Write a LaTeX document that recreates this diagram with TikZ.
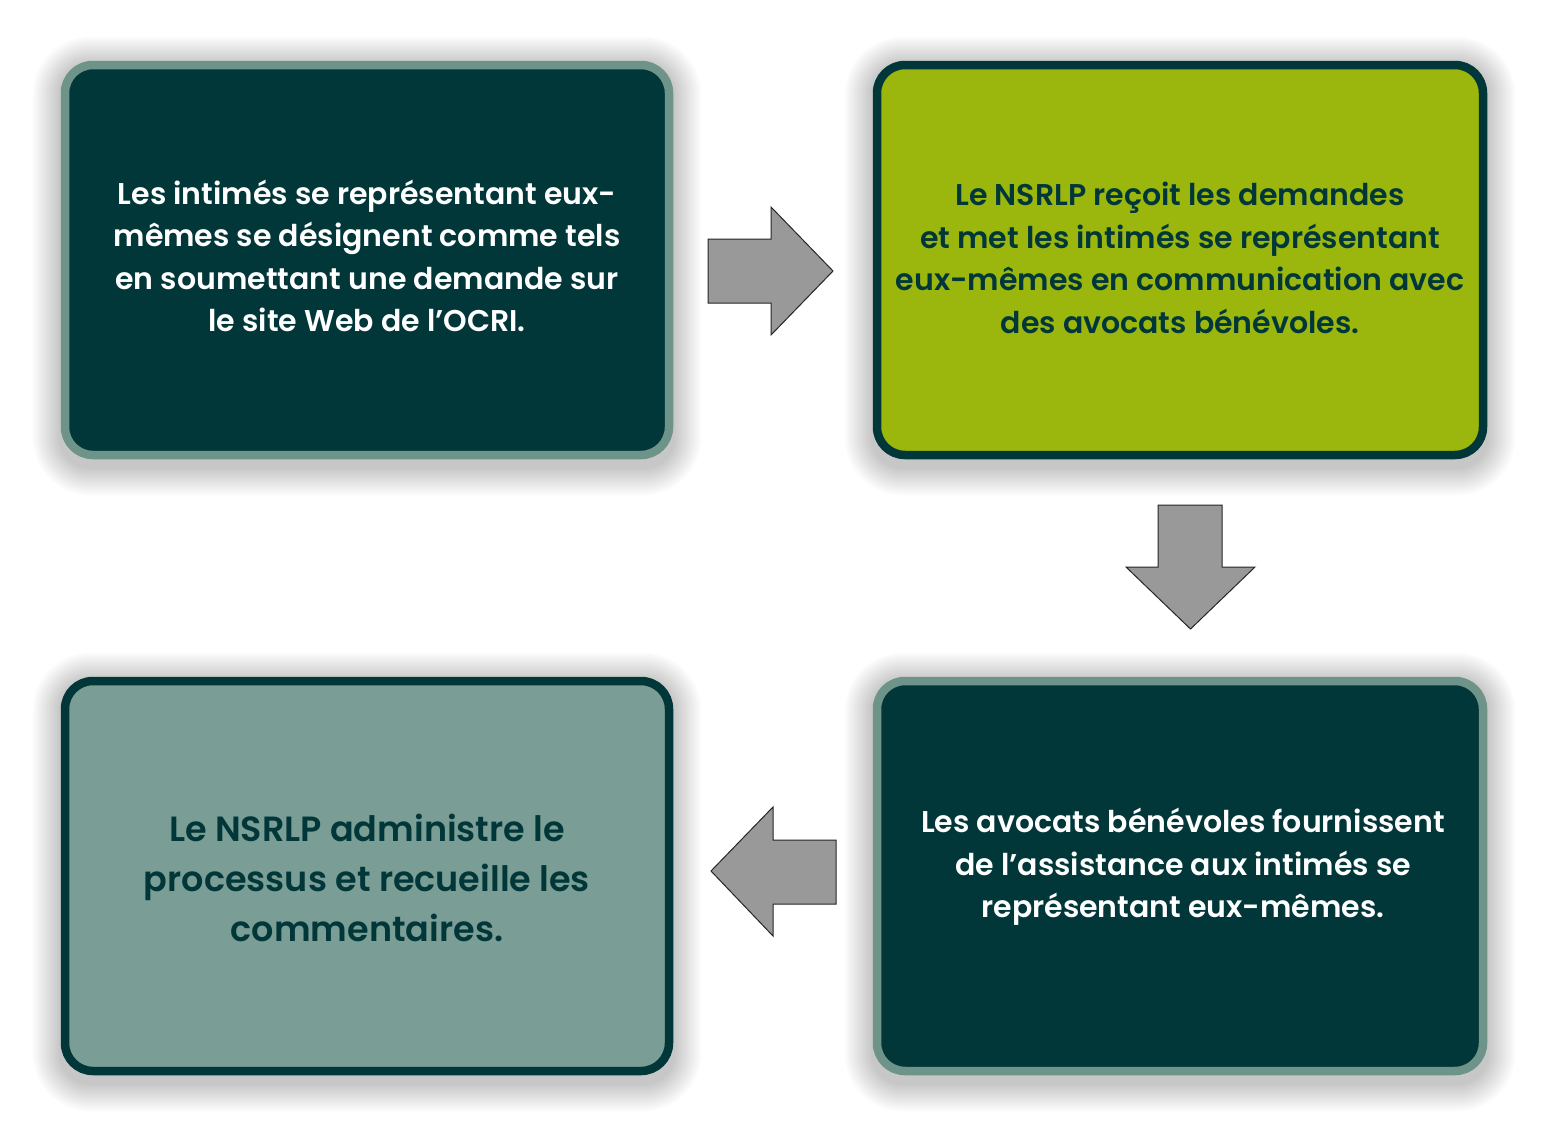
\documentclass[tikz,border=0pt]{standalone}
\usepackage{fontspec}
\setmainfont{Poppins}[BoldFont={Poppins SemiBold}]
\usetikzlibrary{calc,backgrounds}
\definecolor{dk}{HTML}{02373A}
\definecolor{sage}{HTML}{6E9389}
\definecolor{sagefill}{HTML}{7A9D95}
\definecolor{lime}{HTML}{9BB70D}
\definecolor{arrowgray}{HTML}{999999}
\begin{document}
\begin{tikzpicture}[x=1pt,y=-1pt,
  card/.style={rounded corners=28pt, line width=8.5pt},
  darkcard/.style={card, draw=sage, fill=dk},
  limecard/.style={card, draw=dk, fill=lime},
  sagecard/.style={card, draw=dk, fill=sagefill},
  wide/.style={minimum width=604pt, minimum height=390pt, inner sep=0pt},
  wider/.style={minimum width=606pt, minimum height=390pt, inner sep=0pt},
  txt/.style={align=center, inner sep=0pt, font=\bfseries\fontsize{30}{42.5}\selectfont},
  bigtxt/.style={align=center, inner sep=0pt, font=\bfseries\fontsize{35}{50}\selectfont},
  shadowlayer/.style={fill=black, opacity=0.017},
  blockarrow/.style={fill=arrowgray, draw=black!85, line width=1pt, line join=miter}
]
\useasboundingbox (0,0) rectangle (1548,1136);

\node[darkcard, wide]  (b1) at (367,260) {};
\node[limecard, wider] (b2) at (1180,260) {};
\node[darkcard, wider] (b3) at (1180,876) {};
\node[sagecard, wide]  (b4) at (367,876) {};

\begin{scope}[on background layer]
  \fill[white] (0,0) rectangle (1548,1136);
  \foreach \n in {b1,b2,b3,b4}{
    \foreach \e [evaluate=\e as \rc using 28+\e] in {4,6,...,30}{
      \fill[shadowlayer, rounded corners=\rc pt]
        ($(\n.north west)+(-\e+2,-\e+6)$) rectangle ($(\n.south east)+(\e-2,\e+6)$);
    }
  }
\end{scope}

\node[txt, text=white] (t1) at (367,256) {Les intimés se représentant eux-\\mêmes se désignent comme tels\\en soumettant une demande sur\\le site Web de l’OCRI.};
\node[txt, text=dk] (t2) at (1180,258) {Le NSRLP reçoit les demandes\\et met les intimés se représentant\\eux-mêmes en communication avec\\des avocats bénévoles.};
\node[txt, text=white] (t3) at (1183,867) {Les avocats bénévoles fournissent\\de l’assistance aux intimés se\\représentant eux-mêmes.};
\node[bigtxt, text=dk] (t4) at (367,878) {Le NSRLP administre le\\processus et recueille les\\commentaires.};

\draw[blockarrow] (708,239) -- (771,239) -- (771,207) -- (833,271) -- (771,335) -- (771,303) -- (708,303) -- cycle;
\draw[blockarrow] (1158,505) -- (1222,505) -- (1222,567) -- (1255,567) -- (1190.5,629) -- (1126,567) -- (1158,567) -- cycle;
\draw[blockarrow] (836,840) -- (773,840) -- (773,807) -- (711,871) -- (773,936) -- (773,904) -- (836,904) -- cycle;
\end{tikzpicture}
\end{document}
